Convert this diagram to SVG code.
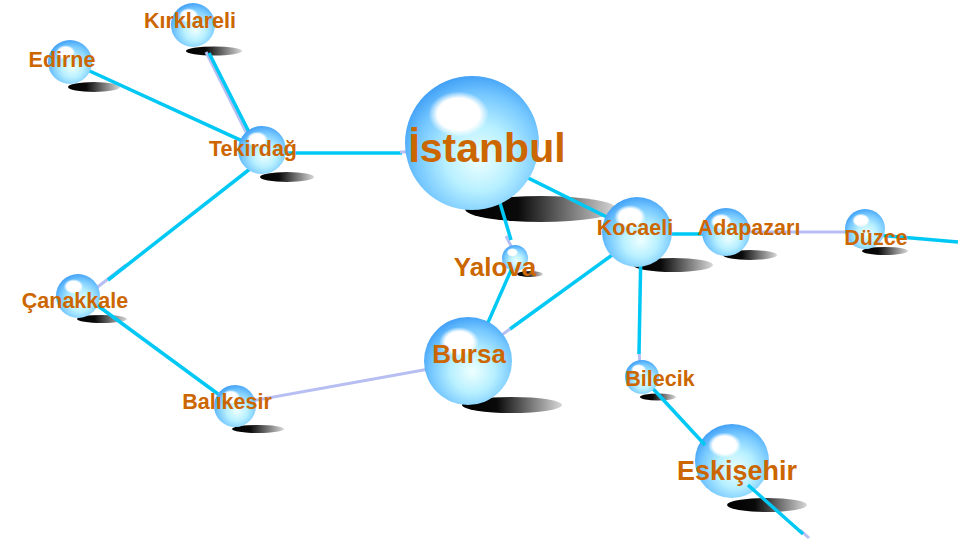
<svg xmlns="http://www.w3.org/2000/svg" xmlns:xlink="http://www.w3.org/1999/xlink" width="964" height="540" viewBox="0 0 964 540">
<defs>
<radialGradient id="gSph" cx="0.55" cy="0.6" r="0.62" fx="0.55" fy="0.62">
<stop offset="0" stop-color="#eeffff"/>
<stop offset="0.4" stop-color="#b8f0ff"/>
<stop offset="0.75" stop-color="#76c8ff"/>
<stop offset="1" stop-color="#3e9ef6"/>
</radialGradient>
<radialGradient id="gHi" cx="0.5" cy="0.5" r="0.5">
<stop offset="0" stop-color="#ffffff" stop-opacity="1"/>
<stop offset="0.7" stop-color="#ffffff" stop-opacity="1"/>
<stop offset="1" stop-color="#ffffff" stop-opacity="0"/>
</radialGradient>
<linearGradient id="gSh" x1="0" y1="0" x2="1" y2="0">
<stop offset="0" stop-color="#000"/>
<stop offset="0.35" stop-color="#0a0a0a"/>
<stop offset="0.7" stop-color="#7a7a7a"/>
<stop offset="1" stop-color="#d8d8d8"/>
</linearGradient>
<symbol id="ball" viewBox="-1 -1 2 2" overflow="visible">
<circle r="1" fill="url(#gSph)"/>
<ellipse cx="-0.2" cy="-0.43" rx="0.45" ry="0.34" fill="url(#gHi)"/>
</symbol>
</defs>
<style>
.lbl{font-family:"Liberation Sans",Arial,sans-serif;font-weight:bold;fill:#cc6600;text-anchor:middle}
.cy{stroke:#00c8f4;stroke-width:3.5;fill:none}
.lv{stroke:#b6bef2;stroke-width:3;fill:none}
.sh{fill:url(#gSh)}
</style>
<rect width="964" height="540" fill="#ffffff"/>
<g id="shadows">
<ellipse class="sh" cx="94" cy="87" rx="26" ry="5"/>
<ellipse class="sh" cx="214" cy="51" rx="28" ry="4.5"/>
<ellipse class="sh" cx="287" cy="177" rx="27" ry="5"/>
<ellipse class="sh" cx="541" cy="209" rx="76" ry="13"/>
<ellipse class="sh" cx="530" cy="274" rx="13" ry="3"/>
<ellipse class="sh" cx="512" cy="405" rx="50" ry="8"/>
<ellipse class="sh" cx="673" cy="265" rx="40" ry="7"/>
<ellipse class="sh" cx="750" cy="255" rx="27" ry="5"/>
<ellipse class="sh" cx="885" cy="251" rx="23" ry="4"/>
<ellipse class="sh" cx="102" cy="319" rx="25" ry="4"/>
<ellipse class="sh" cx="258" cy="429" rx="26" ry="4"/>
<ellipse class="sh" cx="658" cy="397" rx="18" ry="3.5"/>
<ellipse class="sh" cx="767" cy="505" rx="40" ry="7"/>
</g>
<g id="node-eskisehir">
<use href="#ball" xlink:href="#ball" x="695" y="424" width="74" height="74"/>
<text class="lbl" x="737" y="480" font-size="27">Eskişehir</text>
</g>
<g id="connectors">
<line class="cy" x1="70" y1="62" x2="262" y2="150"/>
<line class="lv" x1="206" y1="52" x2="250" y2="140"/>
<line class="cy" x1="209" y1="53" x2="254" y2="142"/>
<line class="cy" x1="262" y1="153" x2="402" y2="153"/>
<line class="lv" x1="400" y1="152" x2="430" y2="152"/>
<line class="lv" x1="126" y1="265" x2="86" y2="296"/>
<line class="cy" x1="255" y1="165" x2="108" y2="280"/>
<line class="cy" x1="90" y1="300" x2="218" y2="394"/>
<line class="lv" x1="235" y1="404" x2="468" y2="362"/>
<line class="cy" x1="471" y1="361" x2="512" y2="268"/>
<line class="lv" x1="506" y1="236" x2="514" y2="252"/>
<line class="cy" x1="495" y1="186" x2="511" y2="240"/>
<line class="cy" x1="500" y1="164" x2="637" y2="232"/>
<line class="lv" x1="510" y1="329" x2="468" y2="360"/>
<line class="cy" x1="637" y1="237" x2="510" y2="329"/>
<line class="cy" x1="637" y1="234" x2="726" y2="234"/>
<line class="lv" x1="726" y1="232" x2="865" y2="232"/>
<line class="cy" x1="865" y1="234" x2="958" y2="242"/>
<line class="lv" x1="639" y1="350" x2="640" y2="366"/>
<line class="cy" x1="641" y1="245" x2="639" y2="354"/>
<line class="cy" x1="645" y1="380" x2="705" y2="445"/>
<line class="lv" x1="800" y1="530" x2="809" y2="538"/>
<line class="cy" x1="748" y1="485" x2="803" y2="534"/>
</g>
<g id="node-edirne">
<use href="#ball" xlink:href="#ball" x="48" y="40" width="44" height="44"/>
<text class="lbl" x="62" y="67" font-size="21.5">Edirne</text>
</g>
<g id="node-kirklareli">
<use href="#ball" xlink:href="#ball" x="171" y="3" width="44" height="44"/>
<text class="lbl" x="190" y="28" font-size="21.5">Kırklareli</text>
</g>
<g id="node-tekirdag">
<use href="#ball" xlink:href="#ball" x="238" y="126" width="48" height="48"/>
<text class="lbl" x="253" y="156" font-size="21.5">Tekirdağ</text>
</g>
<g id="node-istanbul">
<use href="#ball" xlink:href="#ball" x="405" y="76" width="134" height="134"/>
<text class="lbl" x="487" y="162" font-size="41">İstanbul</text>
</g>
<g id="node-yalova">
<use href="#ball" xlink:href="#ball" x="502" y="245" width="26" height="26"/>
<text class="lbl" x="495" y="276" font-size="26">Yalova</text>
</g>
<g id="node-bursa">
<use href="#ball" xlink:href="#ball" x="424" y="317" width="88" height="88"/>
<text class="lbl" x="469" y="363" font-size="26">Bursa</text>
</g>
<g id="node-kocaeli">
<use href="#ball" xlink:href="#ball" x="602" y="197" width="70" height="70"/>
<text class="lbl" x="635" y="235" font-size="21.5">Kocaeli</text>
</g>
<g id="node-adapazari">
<use href="#ball" xlink:href="#ball" x="702" y="208" width="48" height="48"/>
<text class="lbl" x="749" y="235" font-size="21.5">Adapazarı</text>
</g>
<g id="node-duzce">
<use href="#ball" xlink:href="#ball" x="845" y="209" width="40" height="40"/>
<text class="lbl" x="876" y="245" font-size="21.5">Düzce</text>
</g>
<g id="node-canakkale">
<use href="#ball" xlink:href="#ball" x="56" y="274" width="44" height="44"/>
<text class="lbl" x="75" y="308" font-size="21.5">Çanakkale</text>
</g>
<g id="node-balikesir">
<use href="#ball" xlink:href="#ball" x="214" y="385" width="42" height="42"/>
<text class="lbl" x="227" y="409" font-size="21.5">Balıkesir</text>
</g>
<g id="node-bilecik">
<use href="#ball" xlink:href="#ball" x="625" y="360" width="34" height="34"/>
<text class="lbl" x="660" y="386" font-size="21.5">Bilecik</text>
</g>
</svg>
